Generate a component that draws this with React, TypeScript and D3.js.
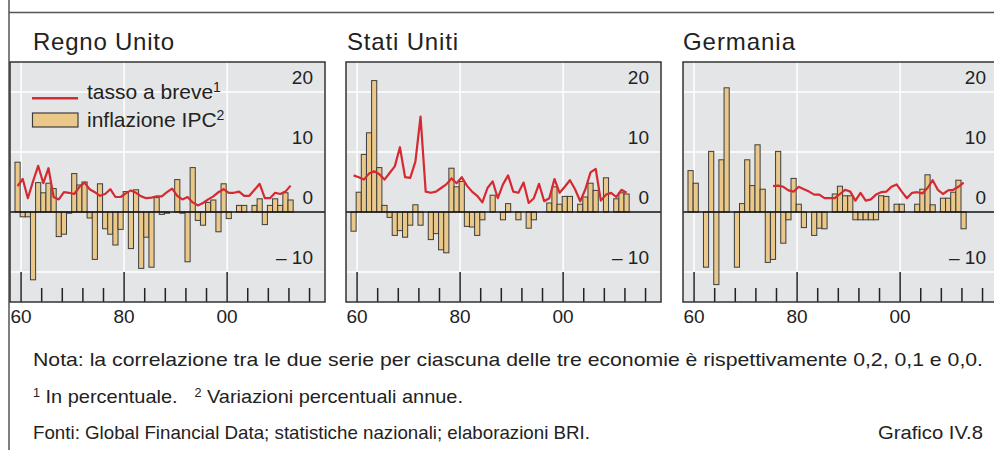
import React from 'react';
import * as d3 from 'd3';

// anni 1959-2012, una barra per anno
const years = d3.range(1959, 2013);

// inflazione IPC (variazione), Regno Unito
const ukInflation = [8.3, -0.8, -0.8, -11.3, 4.9, 3.2, 4.8, 3.9, -4.1, -3.7, -0.2, 6.4, 4.5, 5.0, -1.0, -7.9, 4.7, -2.8, -3.7, -5.5, -2.9, 3.4, -6.1, 3.7, -9.4, -4.2, -9.2, 2.4, -0.4, -0.2, 0, 5.4, -0.2, -8.3, 7.4, -1.4, -2.2, 1.6, 2.0, -3.3, 4.7, -1.1, 0, 1.1, 1.1, 0, 1.1, 2.2, -2.1, 1.1, 2.2, 1.1, 3.2, 2.0];
const ukRate = [4.3, 5.5, 2.3, 5.1, 7.7, 4.8, 7.3, 2.5, 2.1, 3.3, 3.2, 3.0, 4.2, 4.9, 3.8, 3.3, 2.7, 3.0, 3.8, 2.5, 2.5, 3.1, 3.6, 3.2, 2.6, 2.3, 2.4, 2.6, 2.6, 3.3, 3.9, 2.7, 2.1, 2.5, 1.6, 1.1, 1.5, 2.1, 2.6, 3.3, 3.8, 3.2, 3.2, 3.4, 2.7, 2.7, 3.7, 4.7, 2.3, 2.3, 3.2, 3.0, 3.4, 4.4];

// Stati Uniti
const usInflation = [-3.2, 3.3, 9.6, 13.2, 21.9, 7.4, 1.1, -0.9, -3.9, -3.1, -4.2, -2.2, 1.2, -2.2, 0, -4.6, -3.6, -6.3, -6.8, 7.3, 4.2, 5.1, -2.4, -2.5, -3.9, -1.3, 0, 2.8, 0, -1.3, 1.4, 0, -1.3, 0, -2.7, -1.3, 0, 0, 1.5, 4.2, 1.3, 2.6, 2.6, 0, 1.3, 2.5, 4.8, 3.6, 0, 5.7, 0, 2.2, 3.2, 3.0];
const usRate = [6.1, 5.8, 5.4, 6.4, 6.8, 6.3, 5.4, 6.5, 7.6, 10.8, 5.8, 5.7, 8.4, 15.9, 3.4, 3.2, 3.4, 4.0, 4.6, 5.6, 4.8, 5.8, 4.4, 3.4, 2.7, 1.6, 4.0, 5.1, 2.3, 4.6, 6.1, 3.4, 3.2, 4.9, 1.5, 2.3, 4.7, 1.8, 2.3, 5.5, 3.2, 4.2, 5.3, 3.8, 1.8, 3.8, 6.6, 7.2, 1.9, 2.9, 3.2, 2.5, 3.7, 3.2];

// Germania (tasso a breve dal 1975)
const deInflation = [6.9, 4.8, 0, -9.2, 10.1, -12.1, 8.7, 20.7, 0, -9.2, 1.4, 8.7, 4.4, 11.2, 3.8, -8.4, -7.9, 10.1, -5.2, -1.3, 5.6, 1.3, -2.6, 0, -3.9, -2.7, -2.8, 0, 3.0, 4.3, 2.7, 2.7, -1.3, -1.3, -1.3, -1.3, -1.3, 2.7, 2.6, 0, 1.3, 1.3, 0, 0, 1.3, 3.8, 6.2, 1.2, 0, 2.3, 2.3, 3.3, 5.3, -2.8];
const deRate = [null, null, null, null, null, null, null, null, null, null, null, null, null, null, null, null, 4.3, 4.4, 4.2, 3.6, 3.4, 4.2, 3.8, 3.4, 2.9, 2.9, 2.3, 2.3, 2.3, 3.0, 3.7, 3.4, 1.9, 3.2, 1.9, 2.1, 2.9, 3.3, 3.4, 4.2, 4.6, 3.4, 2.3, 3.2, 3.3, 3.1, 4.0, 5.3, 3.7, 3.0, 3.6, 3.7, 4.2, 4.9];

const titles = ['Regno Unito', 'Stati Uniti', 'Germania'];
const inflation = [ukInflation, usInflation, deInflation];
const rates = [ukRate, usRate, deRate];

const tickYears = [1960, 1964, 1968, 1972, 1976, 1980, 1984, 1988, 1992, 1996, 2000, 2004, 2008, 2012, 2016];
const labelYears = [1960, 1980, 2000];
const labelText = ['60', '80', '00'];
const yTicks = [20, 10, 0, -10];
const yGrid = [20, 10, -10];

const FONT = '"Liberation Sans", Arial, sans-serif';
const BAR_FILL = '#e9c88a';
const BAR_STROKE = '#3d3d3d';
const RED = '#d52a31';
const PANEL_BG = '#e4e5e7';

const PANEL_W = 315;
const PANEL_LEFT = [10, 346, 683];
const TITLE_X = [23, 1, 0];
const TITLE_LEN = [141, 111, 112];
const TOP = 62;
const BOTTOM = 302;

const x = d3.scaleLinear().domain([1957.85, 2019.0]).range([0, PANEL_W]);
const y = d3.scaleLinear().domain([-15, 25]).range([BOTTOM, TOP]);

function Panel({ idx }: { idx: number }) {
  const left = PANEL_LEFT[idx];
  const bars = inflation[idx];
  const rate = rates[idx];
  const line = d3.line<number | null>()
    .defined(d => d != null)
    .x((d, i) => x(years[i] + 0.32))
    .y(d => y(d as number));

  return (
    <g transform={`translate(${left},0)`}>
      <text x={TITLE_X[idx]} y={50} fontSize={24} fill="#222" textLength={TITLE_LEN[idx]} lengthAdjust="spacing">
        {titles[idx]}
      </text>
      <rect x={0} y={TOP} width={PANEL_W} height={BOTTOM - TOP} fill={PANEL_BG} />
      {yGrid.map(v => (
        <line key={v} x1={0} x2={PANEL_W} y1={y(v)} y2={y(v)} stroke="#fff" strokeWidth={1.5} />
      ))}
      {labelYears.map(yr => (
        <line key={yr} x1={x(yr)} x2={x(yr)} y1={TOP} y2={BOTTOM} stroke="#fff" strokeWidth={1.5} />
      ))}
      {yTicks.map(v => (
        <text key={v} x={303} y={y(v) - 8} textAnchor="end" fontSize={19} fill="#222">
          {v < 0 ? `\u2013 ${Math.abs(v)}` : v}
        </text>
      ))}
      {bars.map((v, i) => v === 0 ? null : (
        <rect key={i}
          x={x(years[i] - 0.18)}
          width={x(years[i] + 0.82) - x(years[i] - 0.18)}
          y={y(Math.max(0, v))}
          height={Math.abs(y(v) - y(0))}
          fill={BAR_FILL} stroke={BAR_STROKE} strokeWidth={1} />
      ))}
      <line x1={0} x2={PANEL_W} y1={y(0)} y2={y(0)} stroke="#111" strokeWidth={1.6} />
      <path d={line(rate) || ''} fill="none" stroke={RED} strokeWidth={2.2} strokeLinejoin="round" />
      {tickYears.map(yr => {
        const major = labelYears.includes(yr);
        return (
          <line key={yr} x1={x(yr)} x2={x(yr)} y1={major ? 272 : 288} y2={BOTTOM}
            stroke="#222" strokeWidth={1.5} />
        );
      })}
      <rect x={0} y={TOP} width={PANEL_W} height={BOTTOM - TOP} fill="none" stroke="#333" strokeWidth={1.5} />
      {labelYears.map((yr, i) => (
        <text key={yr} x={x(yr)} y={323} textAnchor="middle" fontSize={19} fill="#222">
          {labelText[i]}
        </text>
      ))}
      {idx === 0 && (
        <g>
          <line x1={22} x2={68} y1={98.3} y2={98.3} stroke={RED} strokeWidth={2.4} />
          <text x={77} y={99} fontSize={21} fill="#222">
            tasso a breve<tspan fontSize={14} dy={-7}>1</tspan>
          </text>
          <rect x={22.5} y={113} width={45.5} height={14} fill={BAR_FILL} stroke={BAR_STROKE} strokeWidth={1.2} />
          <text x={77} y={127} fontSize={21} fill="#222">
            inflazione IPC<tspan fontSize={14} dy={-7}>2</tspan>
          </text>
        </g>
      )}
    </g>
  );
}

export default function App() {
  return (
    <svg width={994} height={450} viewBox="0 0 994 450"
      style={{ position: 'absolute', left: 0, top: 0, background: '#fff' }}
      fontFamily={FONT}>
      <line x1={9} x2={9} y1={0} y2={450} stroke="#555" strokeWidth={1.5} />
      <line x1={9} x2={994} y1={12.5} y2={12.5} stroke="#555" strokeWidth={1.5} />
      {titles.map((t, i) => <Panel key={t} idx={i} />)}
      <text x={33} y={366} fontSize={19} fill="#222" textLength={950} lengthAdjust="spacingAndGlyphs">
        Nota: la correlazione tra le due serie per ciascuna delle tre economie è rispettivamente 0,2, 0,1 e 0,0.
      </text>
      <text x={33} y={403} fontSize={19} fill="#222" textLength={430} lengthAdjust="spacingAndGlyphs">
        <tspan fontSize={12} dy={-6}>1</tspan>
        <tspan dy={6}> In percentuale.</tspan>
        <tspan dx={16} fontSize={12} dy={-6}>2</tspan>
        <tspan dy={6}> Variazioni percentuali annue.</tspan>
      </text>
      <text x={33} y={439} fontSize={19} fill="#222" textLength={557} lengthAdjust="spacingAndGlyphs">
        Fonti: Global Financial Data; statistiche nazionali; elaborazioni BRI.
      </text>
      <text x={983} y={439} fontSize={19} fill="#222" textAnchor="end" textLength={105} lengthAdjust="spacingAndGlyphs">
        Grafico IV.8
      </text>
    </svg>
  );
}
